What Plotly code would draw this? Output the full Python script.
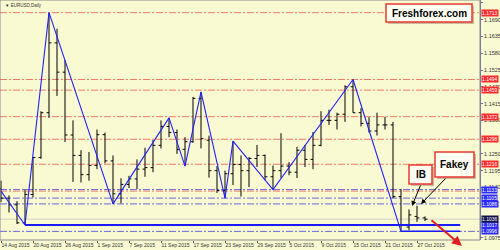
import plotly.graph_objects as go

# ---------------- data ----------------
bar_idx = list(range(54))
opens  = [1.1137,1.1105,1.1083,1.1024,1.1117,1.1238,1.1385,1.1614,1.1518,1.1312,
          1.1245,1.1182,1.1212,1.1313,1.1227,1.1119,1.1150,1.1168,1.1200,1.1205,
          1.1278,1.1340,1.1320,1.1265,1.1290,1.1432,1.1295,1.1195,1.1130,1.1185,
          1.1215,1.1195,1.1235,1.1245,1.1175,1.1195,1.1210,1.1190,1.1262,1.1232,
          1.1278,1.1360,1.1360,1.1380,1.1470,1.1385,1.1350,1.1325,1.1345,1.1345,
          1.1110,1.1010,1.1045,1.1040]
highs  = [1.1162,1.1114,1.1095,1.1135,1.1240,1.1390,1.1713,1.1660,1.1558,1.1360,
          1.1262,1.1256,1.1330,1.1320,1.1245,1.1170,1.1178,1.1232,1.1270,1.1295,
          1.1360,1.1368,1.1330,1.1305,1.1437,1.1453,1.1310,1.1210,1.1195,1.1292,
          1.1245,1.1240,1.1279,1.1248,1.1212,1.1318,1.1223,1.1273,1.1279,1.1322,
          1.1390,1.1395,1.1385,1.1475,1.1494,1.1400,1.1370,1.1385,1.1372,1.1355,
          1.1135,1.1068,1.1080,1.1045]
lows   = [1.1092,1.1058,1.1020,1.1017,1.1107,1.1234,1.1368,1.1440,1.1289,1.1158,
          1.1156,1.1162,1.1200,1.1219,1.1086,1.1088,1.1138,1.1135,1.1175,1.1190,
          1.1268,1.1305,1.1250,1.1210,1.1286,1.1268,1.1172,1.1122,1.1105,1.1148,
          1.1110,1.1141,1.1207,1.1164,1.1133,1.1171,1.1180,1.1171,1.1207,1.1200,
          1.1275,1.1345,1.1330,1.1355,1.1385,1.1340,1.1320,1.1310,1.1330,1.1105,
          1.0996,1.1000,1.1027,1.1030]
closes = [1.1105,1.1083,1.1024,1.1117,1.1238,1.1385,1.1614,1.1518,1.1312,1.1245,
          1.1182,1.1212,1.1313,1.1227,1.1119,1.1150,1.1168,1.1200,1.1205,1.1278,
          1.1340,1.1320,1.1265,1.1290,1.1432,1.1300,1.1195,1.1130,1.1185,1.1215,
          1.1195,1.1235,1.1245,1.1175,1.1195,1.1210,1.1190,1.1262,1.1232,1.1278,
          1.1360,1.1360,1.1380,1.1470,1.1385,1.1350,1.1325,1.1345,1.1345,1.1110,
          1.1015,1.1050,1.1040,1.1036]

zz_idx = [0, 3, 6, 14, 21, 23, 25, 28, 29, 34, 44, 50]
zz_val = [1.1128, 1.1017, 1.1713, 1.1086, 1.1368, 1.1210, 1.1453, 1.1105,
          1.1292, 1.1133, 1.1494, 1.0996]

x_tick_idx = [0, 4, 8, 12, 16, 20, 24, 28, 32, 36, 40, 44, 48, 52]
x_tick_text = ["14 Aug 2015", "20 Aug 2015", "26 Aug 2015", "1 Sep 2015",
               "7 Sep 2015", "11 Sep 2015", "17 Sep 2015", "23 Sep 2015",
               "29 Sep 2015", "5 Oct 2015", "9 Oct 2015", "15 Oct 2015",
               "21 Oct 2015", "27 Oct 2015"]

# tick labels visible on the price scale (others are hidden by level labels)
y_tick_vals = [1.1745, 1.1690, 1.1635, 1.1580, 1.1525, 1.1470, 1.1415, 1.1360,
               1.1250, 1.1195, 1.1140, 1.0975]
y_tick_text = ["1.1746", "1.1690", "1.1635", "1.1580", "1.1525", "1.1470", "1.1415",
               "1.1360", "1.1250", "1.1195", "1.1140", "1.0975"]

red_levels = [1.1713, 1.1494, 1.1459, 1.1372, 1.1298, 1.1216, 1.1128]
red_labels = [1.1713, 1.1494, 1.1459, 1.1372, 1.1298, 1.1216]
blue_levels = [1.1133, 1.1105, 1.1086, 1.0996]
support_level = 1.1017
support_start = 3
low_level = 1.0996
low_start = 50
line_end = 57.4
bid_level = 1.1036

# ---------------- styling constants ----------------
W, H = 500, 250
ML, MR, MT, MB = 0, 20, 0, 10
PW, PH = W - ML - MR, H - MT - MB
BG = "#FAFAD2"
RED_LINE = "#F07A68"
BLUE_LINE = "#6868E0"
FONT = "Liberation Sans"

def px(x):
    return x / PW

def py(y):
    return 1 - y / PH

fig = go.Figure()

fig.add_trace(go.Ohlc(
    x=bar_idx, open=opens, high=highs, low=lows, close=closes,
    increasing_line_color="black", decreasing_line_color="black",
    line_width=1, tickwidth=0.3, showlegend=False, hoverinfo="skip"))

fig.add_trace(go.Scatter(
    x=zz_idx, y=zz_val, mode="lines",
    line=dict(color="#2020FF", width=1.1), showlegend=False, hoverinfo="skip"))

shapes = []
dash = "7px,2px,2px,2px"
for v in red_levels:
    shapes.append(dict(type="line", xref="paper", x0=0, x1=1, yref="y", y0=v, y1=v,
                       line=dict(color=RED_LINE, width=1, dash=dash), layer="below"))
for v in blue_levels:
    shapes.append(dict(type="line", xref="paper", x0=0, x1=1, yref="y", y0=v, y1=v,
                       line=dict(color=BLUE_LINE, width=1, dash=dash), layer="below"))
shapes.append(dict(type="line", xref="paper", x0=0, x1=1, yref="y", y0=bid_level, y1=bid_level,
                   line=dict(color="#D4D4C8", width=1), layer="below"))
shapes.append(dict(type="line", xref="x", x0=support_start, x1=line_end, yref="y",
                   y0=support_level, y1=support_level, line=dict(color="#1A1AFF", width=2)))
shapes.append(dict(type="line", xref="x", x0=low_start, x1=line_end, yref="y",
                   y0=low_level, y1=low_level, line=dict(color="#1A1AFF", width=1.5)))

# frame
shapes.append(dict(type="rect", xref="paper", yref="paper", x0=0, x1=1, y0=0, y1=1,
                   line=dict(color="#8A8A8A", width=1)))

# text boxes (pixel positions)
def box(x0, y0, x1, y1):
    shapes.append(dict(type="rect", xref="paper", yref="paper",
                       x0=px(x0 + 2), x1=px(x1 + 2), y0=py(y1 + 2), y1=py(y0 + 2),
                       line=dict(width=0), fillcolor="rgba(150,110,100,0.45)"))
    shapes.append(dict(type="rect", xref="paper", yref="paper",
                       x0=px(x0), x1=px(x1), y0=py(y1), y1=py(y0),
                       line=dict(color="#E83A30", width=1.5), fillcolor="#FFFFF4"))

box(386, 4, 472, 22)
box(409, 165, 432, 184)
box(435, 152, 474, 177)

annotations = []
def text(x, y, s, size=10):
    annotations.append(dict(xref="paper", yref="paper", x=px(x), y=py(y), text="<b>%s</b>" % s,
                            showarrow=False, xanchor="center", yanchor="middle",
                            font=dict(family=FONT, size=size, color="black")))

text(429, 13, "Freshforex.com", 10)
text(420.5, 174.5, "IB", 10)
text(454.5, 164.5, "Fakey", 10)

def arrow(tx, ty, hx, hy, color, width):
    annotations.append(dict(xref="paper", yref="paper", x=px(hx), y=py(hy),
                            ax=tx - hx, ay=ty - hy, axref="pixel", ayref="pixel",
                            text="", showarrow=True, arrowhead=2, arrowsize=1,
                            arrowwidth=width, arrowcolor=color))

arrow(421, 184, 412, 206, "black", 1)
arrow(447, 177, 421, 204, "black", 1)
arrow(430, 219, 462, 246, "#E02020", 2)

# title
annotations.append(dict(xref="paper", yref="paper", x=px(3), y=py(5), text="▼ EURUSD,Daily",
                        showarrow=False, xanchor="left", yanchor="middle",
                        font=dict(family=FONT, size=4.5, color="#333333")))

# price labels on the right axis
def plabel(v, bg):
    annotations.append(dict(xref="paper", yref="y", x=1.0, y=v, text="%.4f" % v,
                            showarrow=False, xanchor="left", yanchor="middle", xshift=1,
                            bgcolor=bg, borderpad=0, height=6,
                            font=dict(family=FONT, size=5, color="white")))

for v in red_labels:
    plabel(v, "#FF2A2A")
for v in blue_levels:
    plabel(v, "#2A2AFF")
plabel(support_level, "#2A2AFF")
plabel(bid_level, "#14144A")

fig.update_layout(
    width=W, height=H, margin=dict(l=ML, r=MR, t=MT, b=MB),
    paper_bgcolor=BG, plot_bgcolor=BG,
    shapes=shapes, annotations=annotations, showlegend=False,
    xaxis=dict(range=[-1 / 8, (PW - 1) / 8], rangeslider=dict(visible=False),
               tickvals=x_tick_idx, ticktext=x_tick_text, ticks="outside", ticklen=2,
               tickcolor="#555555", ticklabelposition="outside right", tickangle=0,
               ticklabelstandoff=0,
               tickfont=dict(family=FONT, size=5, color="#333333"),
               showgrid=False, zeroline=False, showline=False, automargin=False,
               fixedrange=True),
    yaxis=dict(range=[1.1748 - (PH - 2) / 3050, 1.1748 + 2 / 3050], side="right",
               tickvals=y_tick_vals, ticktext=y_tick_text, ticks="outside", ticklen=2,
               tickcolor="#6A6AA8", showline=True, linecolor="#6A6AA8", linewidth=1,
               tickfont=dict(family=FONT, size=5.5, color="#333333"),
               showgrid=False, zeroline=False, automargin=False, fixedrange=True),
)

fig.write_html("out.html")
